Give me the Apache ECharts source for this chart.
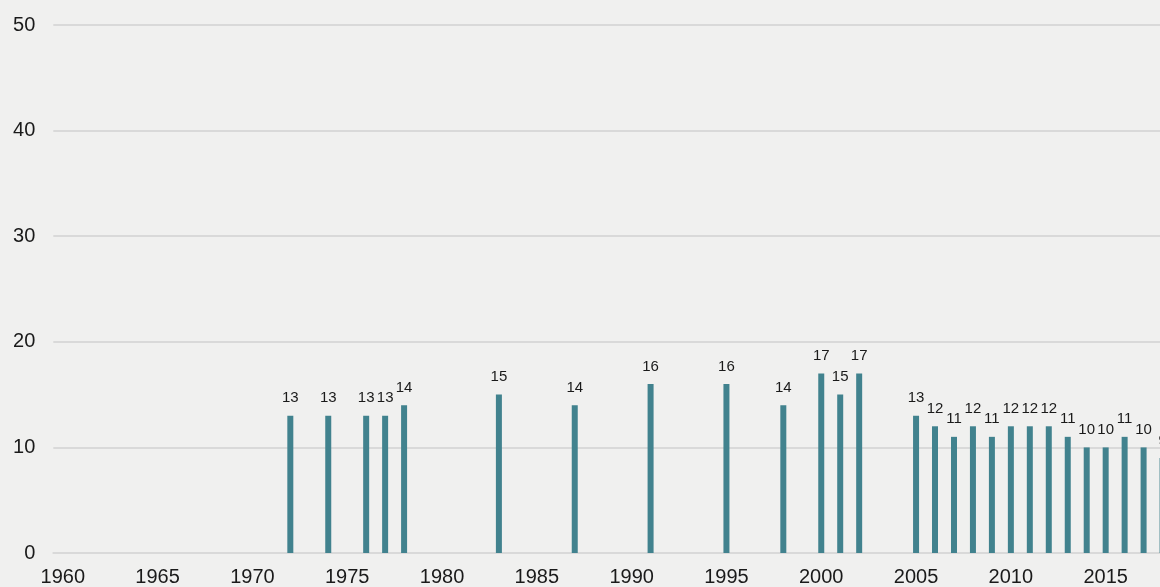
<!DOCTYPE html>
<html>
<head>
<meta charset="utf-8">
<script src="https://cdn.jsdelivr.net/npm/echarts@6/dist/echarts.min.js"></script>
<style>
html,body{margin:0;padding:0;background:#F0F0EF;}
#c{width:1160px;height:587px;}
</style>
</head>
<body>
<div id="c"></div>
<script>
var firstYear = 1960;
var lastYear = 2019;
var barYears = [1972,1974,1976,1977,1978,1983,1987,1991,1995,1998,2000,2001,2002,2005,2006,2007,2008,2009,2010,2011,2012,2013,2014,2015,2016,2017,2018];
var barValues = [13,13,13,13,14,15,14,16,16,14,17,15,17,13,12,11,12,11,12,12,12,11,10,10,11,10,9];
var yTicks = [0,10,20,30,40,50];

var categories = [];
for (var y = firstYear; y <= lastYear; y++) categories.push(String(y));
var seriesData = categories.map(function(c){
  var i = barYears.indexOf(Number(c));
  return i >= 0 ? barValues[i] : null;
});

var chart = echarts.init(document.getElementById('c'));
chart.setOption({
  backgroundColor: '#F0F0EF',
  animation: false,
  textStyle: {fontFamily: 'Liberation Sans, Arial, sans-serif'},
  grid: {left: 53.3, top: 25, right: -31, bottom: 34, containLabel: false, outerBoundsMode: 'none'},
  xAxis: {
    type: 'category',
    data: categories,
    boundaryGap: true,
    axisLine: {show: true, lineStyle: {color: '#D9D9D9', width: 2}},
    axisTick: {show: false},
    axisLabel: {interval: 4, color: '#1a1a1a', fontSize: 20, margin: 14}
  },
  yAxis: {
    type: 'value',
    min: yTicks[0],
    max: yTicks[yTicks.length - 1],
    interval: 10,
    axisLine: {show: false},
    axisTick: {show: false},
    axisLabel: {color: '#1a1a1a', fontSize: 20, margin: 18},
    splitLine: {lineStyle: {color: '#D9D9D9', width: 2}}
  },
  series: [{
    type: 'bar',
    data: seriesData,
    barWidth: 6,
    itemStyle: {color: '#41828E'},
    label: {show: true, position: 'top', distance: 10, color: '#1a1a1a', fontSize: 15}
  }]
});
</script>
</body>
</html>
